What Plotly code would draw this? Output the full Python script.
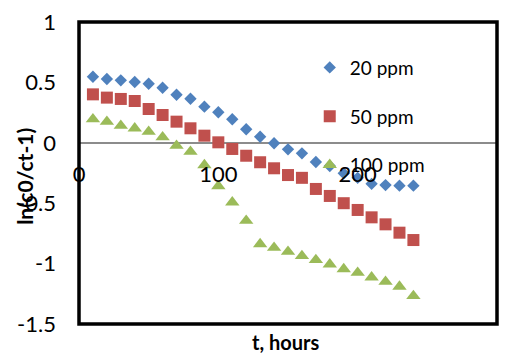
import plotly.graph_objects as go

t_hours = [10, 20, 30, 40, 50, 60, 70, 80, 90, 100, 110, 120,
           130, 140, 150, 160, 170, 180, 190, 200, 210, 220, 230, 240]
ppm20 = [0.547, 0.528, 0.517, 0.503, 0.489, 0.456, 0.398, 0.365, 0.299, 0.253, 0.195, 0.112,
         0.050, -0.004, -0.054, -0.087, -0.159, -0.192, -0.253, -0.290, -0.340, -0.350, -0.355, -0.355]
ppm50 = [0.401, 0.374, 0.363, 0.346, 0.280, 0.230, 0.175, 0.120, 0.059, 0.004, -0.051, -0.107,
         -0.161, -0.211, -0.267, -0.290, -0.382, -0.440, -0.500, -0.556, -0.617, -0.675, -0.744, -0.805]
ppm100 = [0.195, 0.175, 0.142, 0.120, 0.092, 0.046, -0.024, -0.074, -0.184, -0.358, -0.493, -0.645,
          -0.838, -0.868, -0.901, -0.937, -0.970, -1.006, -1.045, -1.075, -1.113, -1.150, -1.190, -1.268]

series_names = ["20 ppm", "50 ppm", "100 ppm"]
x_ticks = [0, 100, 200, 300]
y_ticks = [1, 0.5, 0, -0.5, -1, -1.5]
y_tick_text = ["1", "0.5", "0", "-0.5", "-1", "-1.5"]

FONT = "Lato"

fig = go.Figure()
styles = [("diamond", "#4F81BD", 9.5), ("square", "#C0504D", 12), ("triangle-up", "#9BBB59", 12.5)]
for name, vals, (sym, col, sz) in zip(series_names, [ppm20, ppm50, ppm100], styles):
    fig.add_trace(go.Scatter(x=t_hours, y=vals, mode="markers", name=name, legendgroup=name,
                             marker=dict(symbol=sym, color=col, size=sz, line=dict(width=0))))

fig.update_layout(
    width=512, height=354,
    margin=dict(l=79, r=15, t=22, b=30, autoexpand=False),
    paper_bgcolor="white", plot_bgcolor="white",
    font=dict(family=FONT, color="black"),
    showlegend=True,
    legend=dict(x=0.552, y=0.912, xanchor="left", yanchor="top",
                bgcolor="rgba(0,0,0,0)", font=dict(size=19, family=FONT),
                traceorder="grouped", tracegroupgap=21),
    xaxis=dict(range=[0, 300], tickvals=x_ticks, ticktext=[str(v) for v in x_ticks],
               anchor="free", position=0.6, showline=False, showgrid=False, zeroline=False,
               automargin=False,
               ticks="", ticklabelstandoff=16, tickfont=dict(size=22, family=FONT)),
    yaxis=dict(range=[-1.5, 1], tickvals=y_ticks, ticktext=y_tick_text,
               showline=False, showgrid=False, zeroline=True, zerolinecolor="#8c8c8c",
               zerolinewidth=1.5, ticks="", ticklabelstandoff=22, automargin=False,
               tickfont=dict(size=22, family=FONT)),
    shapes=[dict(type="rect", xref="x domain", yref="y domain", x0=0, x1=1, y0=0, y1=1,
                 line=dict(color="black", width=3.5), layer="above")],
    annotations=[
        dict(text="<b>t, hours</b>", xref="paper", yref="paper", x=0.494, y=-0.058,
             xanchor="center", yanchor="middle", showarrow=False, font=dict(size=20, family=FONT)),
        dict(text="<b>ln(c0/ct-1)</b>", xref="paper", yref="paper", x=-0.132, y=0.49,
             xanchor="center", yanchor="middle", textangle=-90, showarrow=False,
             font=dict(size=21, family=FONT)),
    ],
)

fig.write_html("out.html", config={"displayModeBar": False},
               post_script="document.body.style.margin='0';")
